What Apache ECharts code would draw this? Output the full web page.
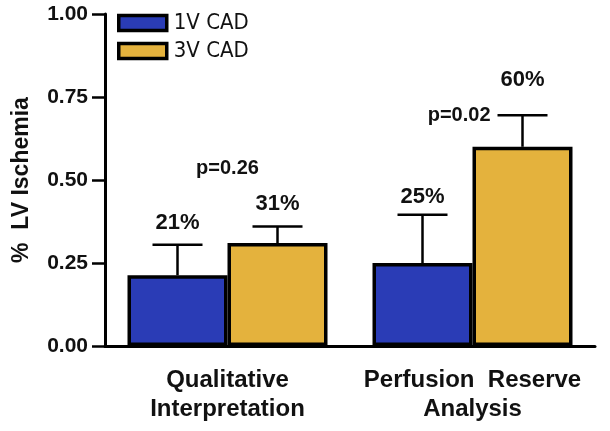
<!DOCTYPE html>
<html>
<head>
<meta charset="utf-8">
<script src="https://cdn.jsdelivr.net/npm/echarts@6/dist/echarts.min.js"></script>
<style>html,body{margin:0;padding:0;background:#fff}#c{width:610px;height:431px}</style>
</head>
<body>
<div id="c"></div>
<script>
const categories = ['Qualitative\nInterpretation', 'Perfusion  Reserve\nAnalysis'];
const seriesNames = ['1V CAD', '3V CAD'];
const values1V = [0.213, 0.25];
const values3V = [0.31, 0.60];
const errTop1V = [0.305, 0.395];
const errTop3V = [0.36, 0.695];
const yTicks = [0, 0.25, 0.5, 0.75, 1.0];
const pLabels = ['p=0.26', 'p=0.02'];
const pCoords = [[0, 0.535], [1, 0.695]];

const FONT = 'Liberation Sans, Arial, Helvetica, sans-serif';
const NARROW = '"Liberation Sans Narrow", "Arial Narrow", "DejaVu Sans Condensed", sans-serif';
const BAR_W = 100;
const COLORS = ['#2a3cb6', '#e4b23d'];
const labelLift = [[11, 7], [12, 24]];

function errSeries(vals, tops, sIdx) {
  const dx = sIdx === 0 ? -BAR_W / 2 : BAR_W / 2;
  return {
    type: 'custom',
    silent: true,
    z: 5,
    data: vals.map((v, i) => [i, v, tops[i]]),
    encode: { x: 0, y: [1, 2] },
    renderItem: function (params, api) {
      const c = api.value(0);
      const base = api.coord([c, api.value(1)]);
      const top = api.coord([c, api.value(2)]);
      const x = base[0] + dx;
      const lift = labelLift[sIdx][params.dataIndex];
      return {
        type: 'group',
        children: [
          { type: 'line', shape: { x1: x, y1: base[1], x2: x, y2: top[1] }, style: { stroke: '#000', lineWidth: 2.5 } },
          { type: 'line', shape: { x1: x - 25, y1: top[1], x2: x + 25, y2: top[1] }, style: { stroke: '#000', lineWidth: 2.5 } },
          { type: 'text', x: x, y: top[1] - lift, style: { text: Math.round(api.value(1) * 100) + '%', fill: '#111', font: 'bold 22px ' + FONT, textAlign: 'center', textVerticalAlign: 'bottom' } }
        ]
      };
    }
  };
}

const pStyles = [{ dx: 0, align: 'center' }, { dx: BAR_W / 2 - 25 - 7, align: 'right' }];

const option = {
  animation: false,
  backgroundColor: '#fff',
  grid: { left: 105, right: 15, top: 14, bottom: 85, containLabel: false },
  legend: {
    data: seriesNames,
    orient: 'vertical',
    left: 112,
    top: 7,
    icon: 'rect',
    itemWidth: 48,
    itemHeight: 15,
    itemGap: 6,
    itemStyle: { borderColor: '#000', borderWidth: 3.5 },
    textStyle: { fontFamily: NARROW, fontSize: 22, color: '#111', padding: [0, 0, 0, 2] },
    selectedMode: false
  },
  xAxis: {
    type: 'category',
    data: categories,
    axisLine: { lineStyle: { color: '#000', width: 3 } },
    axisTick: { show: false },
    axisLabel: { interval: 0, color: '#111', fontFamily: FONT, fontWeight: 'bold', fontSize: 24, lineHeight: 29, margin: 20 }
  },
  yAxis: {
    type: 'value',
    min: 0,
    max: 1,
    interval: 0.25,
    name: '%  LV Ischemia',
    nameLocation: 'middle',
    nameGap: 72,
    nameRotate: 90,
    nameTextStyle: { color: '#111', fontFamily: FONT, fontWeight: 'bold', fontSize: 23 },
    axisLine: { show: true, lineStyle: { color: '#000', width: 3 } },
    axisTick: { show: true, length: 13, lineStyle: { color: '#000', width: 2.5 } },
    splitLine: { show: false },
    axisLabel: {
      color: '#111', fontFamily: FONT, fontWeight: 'bold', fontSize: 21, margin: 17,
      formatter: v => (yTicks.includes(v) ? v.toFixed(2) : '')
    }
  },
  series: [
    { name: seriesNames[0], type: 'bar', data: values1V, barWidth: BAR_W, barGap: '0%',
      itemStyle: { color: COLORS[0], borderColor: '#000', borderWidth: 3.5 } },
    { name: seriesNames[1], type: 'bar', data: values3V, barWidth: BAR_W, barGap: '0%',
      itemStyle: { color: COLORS[1], borderColor: '#000', borderWidth: 3.5 } },
    errSeries(values1V, errTop1V, 0),
    errSeries(values3V, errTop3V, 1),
    {
      type: 'custom',
      silent: true,
      z: 6,
      data: pCoords.map((p, i) => [p[0], p[1], i]),
      encode: { x: 0, y: 1 },
      renderItem: function (params, api) {
        const pt = api.coord([api.value(0), api.value(1)]);
        const i = api.value(2);
        const st = pStyles[i];
        return { type: 'text', x: pt[0] + st.dx, y: pt[1], style: { text: pLabels[i], fill: '#111', font: 'bold 20px ' + FONT, textAlign: st.align, textVerticalAlign: 'middle' } };
      }
    }
  ]
};

const chart = echarts.init(document.getElementById('c'), null, { renderer: 'canvas' });
chart.setOption(option);
</script>
</body>
</html>
